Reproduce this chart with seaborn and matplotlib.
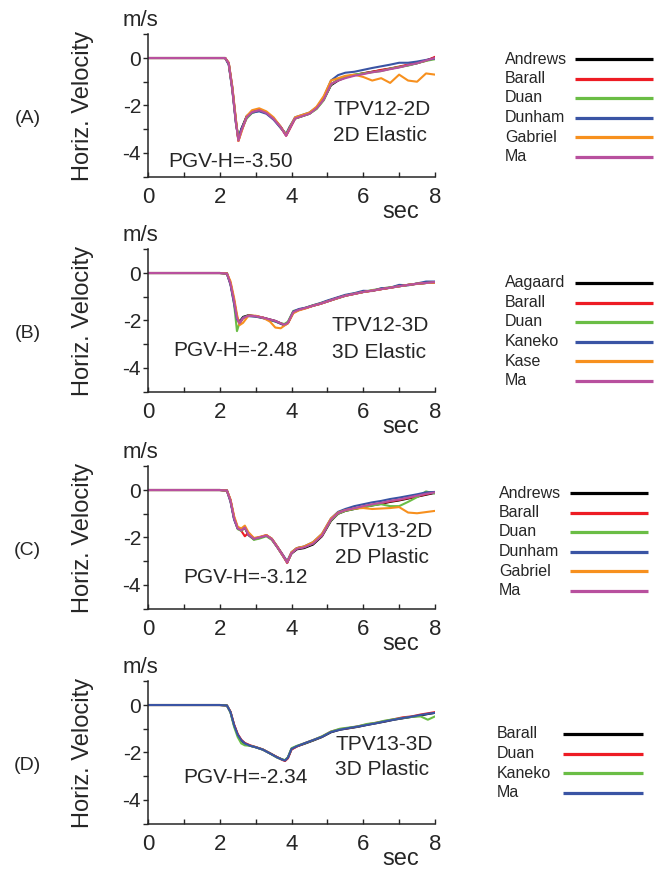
import numpy as np
import pandas as pd
import matplotlib.pyplot as plt
from matplotlib.lines import Line2D
import seaborn as sns

sns.set_style("ticks")
plt.rcParams['font.family'] = ['Liberation Sans', 'DejaVu Sans']

colors = ['#000000', '#ed1c24', '#6abd45', '#3a54a4', '#f7901e', '#b8509e']

# ---- (A) TPV12-2D ----
tA = [0, 1, 2, 2.15, 2.25, 2.35, 2.45, 2.52, 2.6, 2.75, 2.9, 3.1, 3.3, 3.5, 3.7, 3.85, 3.95, 4.1,
      4.3, 4.5, 4.7, 4.9, 5.1, 5.3, 5.5, 5.75, 6.0, 6.25, 6.5, 6.75, 7.0, 7.25, 7.5, 7.75, 8.0]
namesA = ['Andrews', 'Barall', 'Duan', 'Dunham', 'Gabriel', 'Ma']
andrewsA = [0, 0, 0, 0, -0.25, -1.3, -2.7, -3.45, -3.0, -2.45, -2.27, -2.2, -2.32, -2.55, -2.9, -3.25, -2.95, -2.55,
            -2.45, -2.35, -2.12, -1.75, -1.15, -0.95, -0.82, -0.72, -0.65, -0.58, -0.52, -0.45, -0.38, -0.3, -0.22, -0.1, 0.02]
barallA = [0, 0, 0, 0, -0.2, -1.2, -2.6, -3.5, -3.1, -2.5, -2.3, -2.18, -2.3, -2.55, -2.92, -3.28, -3.0, -2.55,
           -2.42, -2.33, -2.1, -1.72, -1.1, -0.92, -0.8, -0.72, -0.64, -0.58, -0.5, -0.44, -0.36, -0.28, -0.2, -0.12, 0.05]
duanA = [0, 0, 0, 0, -0.22, -1.25, -2.65, -3.4, -3.05, -2.55, -2.32, -2.22, -2.3, -2.55, -2.95, -3.22, -2.9, -2.55,
         -2.45, -2.35, -2.15, -1.78, -1.12, -0.9, -0.8, -0.7, -0.65, -0.6, -0.55, -0.45, -0.38, -0.32, -0.22, -0.12, -0.05]
dunhamA = [0, 0, 0, 0, -0.28, -1.35, -2.75, -3.38, -3.0, -2.5, -2.3, -2.25, -2.35, -2.6, -2.95, -3.2, -2.9, -2.5,
           -2.4, -2.3, -2.08, -1.65, -0.95, -0.72, -0.62, -0.58, -0.5, -0.42, -0.35, -0.28, -0.2, -0.2, -0.15, -0.08, -0.02]
gabrielA = [0, 0, 0, 0, -0.2, -1.25, -2.6, -3.5, -3.15, -2.45, -2.2, -2.12, -2.25, -2.5, -2.9, -3.25, -2.95, -2.5,
            -2.4, -2.3, -2.05, -1.6, -0.95, -0.85, -0.75, -0.7, -0.8, -0.95, -0.85, -1.05, -0.7, -0.95, -1.0, -0.65, -0.7]
maA = [0, 0, 0, 0, -0.22, -1.3, -2.7, -3.48, -3.08, -2.5, -2.28, -2.2, -2.32, -2.57, -2.92, -3.28, -2.98, -2.55,
       -2.45, -2.35, -2.12, -1.75, -1.1, -0.95, -0.85, -0.75, -0.68, -0.6, -0.55, -0.47, -0.4, -0.3, -0.22, -0.1, 0.0]

# ---- (B) TPV12-3D ----
tB = [0, 1, 2, 2.2, 2.3, 2.4, 2.48, 2.55, 2.65, 2.8, 3.0, 3.2, 3.4, 3.55, 3.7, 3.8, 3.9, 4.05,
      4.2, 4.4, 4.6, 4.8, 5.0, 5.25, 5.5, 5.75, 6.0, 6.25, 6.5, 6.75, 7.0, 7.25, 7.5, 7.75, 8.0]
namesB = ['Aagaard', 'Barall', 'Duan', 'Kaneko', 'Kase', 'Ma']
aagaardB = [0, 0, 0, -0.02, -0.45, -1.2, -1.9, -2.05, -1.85, -1.78, -1.82, -1.88, -1.96, -2.02, -2.12, -2.18, -2.1, -1.65,
            -1.55, -1.47, -1.38, -1.3, -1.2, -1.08, -0.96, -0.88, -0.8, -0.74, -0.68, -0.62, -0.56, -0.5, -0.45, -0.42, -0.38]
barallB = [0, 0, 0, -0.02, -0.42, -1.15, -1.85, -2.15, -1.9, -1.8, -1.82, -1.88, -1.97, -2.03, -2.13, -2.2, -2.12, -1.67,
           -1.56, -1.48, -1.38, -1.3, -1.2, -1.06, -0.95, -0.88, -0.8, -0.75, -0.68, -0.62, -0.55, -0.5, -0.46, -0.42, -0.4]
duanB = [0, 0, 0, -0.02, -0.45, -1.3, -2.45, -2.1, -1.88, -1.8, -1.83, -1.9, -1.98, -2.05, -2.12, -2.15, -2.05, -1.6,
         -1.55, -1.46, -1.36, -1.28, -1.18, -1.06, -0.95, -0.86, -0.8, -0.72, -0.66, -0.6, -0.56, -0.5, -0.45, -0.42, -0.38]
kanekoB = [0, 0, 0, -0.02, -0.5, -1.3, -1.95, -2.1, -1.88, -1.82, -1.84, -1.9, -1.98, -2.04, -2.14, -2.2, -2.1, -1.62,
           -1.52, -1.46, -1.36, -1.27, -1.16, -1.04, -0.92, -0.85, -0.75, -0.76, -0.64, -0.62, -0.5, -0.52, -0.44, -0.36, -0.36]
kaseB = [0, 0, 0, -0.01, -0.35, -1.05, -1.75, -2.2, -2.1, -1.8, -1.8, -1.88, -2.05, -2.3, -2.33, -2.22, -2.12, -1.7,
         -1.58, -1.49, -1.38, -1.3, -1.2, -1.08, -0.96, -0.88, -0.8, -0.74, -0.68, -0.62, -0.56, -0.5, -0.45, -0.42, -0.4]
maB = [0, 0, 0, -0.02, -0.45, -1.2, -1.9, -2.12, -1.9, -1.8, -1.82, -1.88, -1.96, -2.02, -2.12, -2.18, -2.1, -1.65,
       -1.55, -1.47, -1.38, -1.3, -1.2, -1.07, -0.96, -0.88, -0.8, -0.74, -0.68, -0.62, -0.56, -0.5, -0.45, -0.42, -0.38]

# ---- (C) TPV13-2D ----
tC = [0, 1, 2, 2.2, 2.3, 2.4, 2.5, 2.6, 2.7, 2.8, 2.95, 3.1, 3.3, 3.45, 3.6, 3.75, 3.88, 4.0,
      4.15, 4.35, 4.6, 4.85, 5.1, 5.3, 5.5, 5.75, 6.0, 6.25, 6.5, 6.75, 7.0, 7.25, 7.5, 7.75, 8.0]
namesC = ['Andrews', 'Barall', 'Duan', 'Dunham', 'Gabriel', 'Ma']
andrewsC = [0, 0, 0, -0.02, -0.45, -1.2, -1.62, -1.7, -1.6, -1.9, -2.08, -2.02, -1.92, -2.08, -2.4, -2.75, -3.05, -2.68,
            -2.5, -2.45, -2.3, -1.95, -1.3, -1.0, -0.88, -0.8, -0.72, -0.65, -0.58, -0.5, -0.44, -0.36, -0.28, -0.2, -0.12]
barallC = [0, 0, 0, -0.02, -0.42, -1.15, -1.6, -1.72, -1.95, -1.8, -2.05, -2.0, -1.9, -2.06, -2.38, -2.72, -3.08, -2.65,
           -2.45, -2.4, -2.25, -1.92, -1.25, -0.98, -0.86, -0.78, -0.7, -0.63, -0.56, -0.48, -0.42, -0.34, -0.27, -0.18, -0.1]
duanC = [0, 0, 0, -0.02, -0.45, -1.2, -1.65, -1.72, -1.6, -1.85, -2.1, -2.05, -1.95, -2.1, -2.4, -2.75, -3.05, -2.65,
         -2.45, -2.4, -2.25, -1.9, -1.28, -1.0, -0.88, -0.8, -0.72, -0.65, -0.6, -0.68, -0.68, -0.5, -0.3, -0.06, -0.15]
dunhamC = [0, 0, 0, -0.03, -0.5, -1.25, -1.62, -1.68, -1.58, -1.85, -2.05, -2.0, -1.92, -2.05, -2.38, -2.72, -3.0, -2.62,
           -2.45, -2.38, -2.2, -1.85, -1.2, -0.92, -0.8, -0.68, -0.6, -0.52, -0.46, -0.38, -0.32, -0.25, -0.18, -0.1, -0.08]
gabrielC = [0, 0, 0, -0.02, -0.4, -1.1, -1.55, -1.62, -1.5, -1.78, -2.02, -1.98, -1.9, -2.05, -2.38, -2.75, -3.05, -2.62,
            -2.45, -2.38, -2.2, -1.85, -1.2, -0.95, -0.85, -0.78, -0.76, -0.8, -0.78, -0.76, -0.72, -0.95, -0.98, -0.93, -0.88]
maC = [0, 0, 0, -0.02, -0.45, -1.2, -1.62, -1.7, -1.58, -1.88, -2.06, -2.0, -1.92, -2.07, -2.4, -2.74, -3.06, -2.66,
       -2.48, -2.42, -2.26, -1.92, -1.25, -0.97, -0.85, -0.77, -0.68, -0.6, -0.54, -0.46, -0.4, -0.32, -0.24, -0.16, -0.1]

# ---- (D) TPV13-3D ----
tD = [0, 1, 2, 2.2, 2.3, 2.4, 2.5, 2.6, 2.7, 2.85, 3.0, 3.2, 3.4, 3.6, 3.75, 3.82, 3.9, 4.0,
      4.15, 4.35, 4.6, 4.85, 5.1, 5.35, 5.6, 5.85, 6.1, 6.35, 6.6, 6.85, 7.1, 7.35, 7.6, 7.8, 8.0]
namesD = ['Barall', 'Duan', 'Kaneko', 'Ma']
barallD = [0, 0, 0, -0.02, -0.3, -0.85, -1.25, -1.5, -1.62, -1.72, -1.78, -1.88, -2.04, -2.2, -2.3, -2.34, -2.22, -1.86,
           -1.74, -1.64, -1.5, -1.35, -1.15, -1.04, -0.98, -0.92, -0.84, -0.77, -0.7, -0.62, -0.56, -0.5, -0.44, -0.38, -0.33]
duanD = [0, 0, 0, -0.02, -0.28, -0.82, -1.22, -1.46, -1.6, -1.7, -1.77, -1.87, -2.03, -2.2, -2.32, -2.36, -2.25, -1.88,
         -1.75, -1.62, -1.48, -1.33, -1.12, -1.02, -0.97, -0.9, -0.82, -0.75, -0.68, -0.6, -0.52, -0.48, -0.4, -0.35, -0.3]
kanekoD = [0, 0, 0, -0.02, -0.32, -0.92, -1.35, -1.62, -1.7, -1.72, -1.78, -1.88, -2.04, -2.22, -2.3, -2.32, -2.2, -1.82,
           -1.72, -1.62, -1.48, -1.32, -1.12, -1.0, -0.95, -0.9, -0.8, -0.75, -0.66, -0.6, -0.55, -0.5, -0.48, -0.62, -0.48]
maD = [0, 0, 0, -0.02, -0.3, -0.85, -1.25, -1.48, -1.62, -1.72, -1.78, -1.88, -2.04, -2.21, -2.31, -2.34, -2.22, -1.85,
       -1.74, -1.62, -1.48, -1.34, -1.14, -1.04, -0.97, -0.91, -0.84, -0.77, -0.69, -0.62, -0.55, -0.49, -0.42, -0.37, -0.33]

panels = [
    dict(tag='(A)', t=tA, names=namesA, series=[andrewsA, barallA, duanA, dunhamA, gabrielA, maA],
         pgv='PGV-H=-3.50', title=['TPV12-2D', '2D Elastic'], top=34.3,
         pgv_xy=(0.07, 0.103), ttl_xy=(0.645, 0.469, 0.286), leg=(505, 575, 653, 59)),
    dict(tag='(B)', t=tB, names=namesB, series=[aagaardB, barallB, duanB, kanekoB, kaseB, maB],
         pgv='PGV-H=-2.48', title=['TPV12-3D', '3D Elastic'], top=249.3,
         pgv_xy=(0.087, 0.292), ttl_xy=(0.641, 0.468, 0.278), leg=(505, 575, 653, 283)),
    dict(tag='(C)', t=tC, names=namesC, series=[andrewsC, barallC, duanC, dunhamC, gabrielC, maC],
         pgv='PGV-H=-3.12', title=['TPV13-2D', '2D Plastic'], top=466.3,
         pgv_xy=(0.122, 0.221), ttl_xy=(0.652, 0.54, 0.362), leg=(499, 570, 648, 493)),
    dict(tag='(D)', t=tD, names=namesD, series=[barallD, duanD, kanekoD, maD],
         pgv='PGV-H=-2.34', title=['TPV13-3D', '3D Plastic'], top=681.3,
         pgv_xy=(0.122, 0.327), ttl_xy=(0.652, 0.559, 0.383), leg=(497, 563, 643, 734)),
]

W, H = 662, 873
fig = plt.figure(figsize=(W / 100, H / 100), dpi=100)
ax_l, ax_w, ax_h = 148, 287, 142.3

for p in panels:
    bottom = p['top'] + ax_h
    ax = fig.add_axes([ax_l / W, 1 - bottom / H, ax_w / W, ax_h / H])
    frames = []
    for name, vals in zip(p['names'], p['series']):
        frames.append(pd.DataFrame({'t': p['t'], 'v': vals, 'model': name}))
    df = pd.concat(frames, ignore_index=True)
    pal = dict(zip(p['names'], colors[:len(p['names'])]))
    sns.lineplot(data=df, x='t', y='v', hue='model', hue_order=p['names'], palette=pal,
                 estimator=None, sort=False, legend=False, linewidth=1.5, ax=ax)

    ax.set_xlim(0, 8)
    ax.set_ylim(-5, 1)
    ax.set_xticks([0, 2, 4, 6, 8])
    ax.set_xticks([1, 3, 5, 7], minor=True)
    ax.set_yticks([-4, -2, 0])
    ax.set_yticks([-5, -3, -1, 1], minor=True)
    ax.set_xticklabels(['0', '2', '4', '6', '8'])
    ax.set_yticklabels(['-4', '-2', '0'])
    ax.tick_params(axis='x', which='both', direction='in', length=3.5, width=1, labelsize=16, pad=7.5)
    ax.tick_params(axis='y', which='both', direction='out', length=3.5, width=1, labelsize=15, pad=1.5)
    ax.set_xlabel('')
    ax.set_ylabel('')
    sns.despine(ax=ax)
    for s in ['left', 'bottom']:
        ax.spines[s].set_linewidth(1.1)

    ax.text(-0.028, 1.095, 'm/s', transform=ax.transAxes, ha='center', va='center', fontsize=16)
    ax.text(0.882, -0.25, 'sec', transform=ax.transAxes, ha='center', va='center', fontsize=17)
    ax.text(-0.226, 0.5, 'Horiz. Velocity', transform=ax.transAxes, rotation=90,
            ha='center', va='center', fontsize=17)
    ax.text(-0.42, 0.41, p['tag'], transform=ax.transAxes, ha='center', va='center', fontsize=14)
    ax.text(p['pgv_xy'][0], p['pgv_xy'][1], p['pgv'], transform=ax.transAxes,
            ha='left', va='center', fontsize=15)
    tx, ty1, ty2 = p['ttl_xy']
    ax.text(tx, ty1, p['title'][0], transform=ax.transAxes, ha='left', va='center', fontsize=15)
    ax.text(tx, ty2, p['title'][1], transform=ax.transAxes, ha='left', va='center', fontsize=15)

    # legend: name on the left, coloured line on the right
    lx, l0, l1, ly = p['leg']
    for i, name in enumerate(p['names']):
        y = 1 - (ly + i * 19.5) / H
        fig.text(lx / W, y, name, ha='left', va='center', fontsize=11.5)
        fig.add_artist(Line2D([l0 / W, l1 / W], [y, y], transform=fig.transFigure,
                              color=colors[i], linewidth=2.3, solid_capstyle='butt'))

fig.savefig('out.png', dpi=100)
